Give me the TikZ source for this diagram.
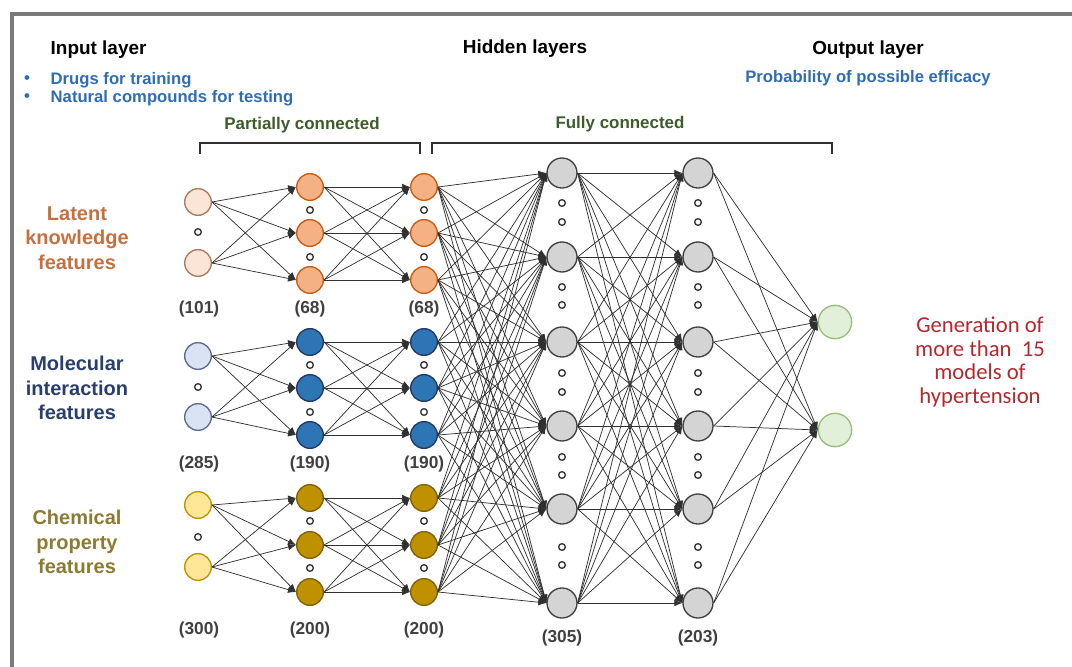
\documentclass[tikz,border=0pt]{standalone}
\usepackage{fontspec}
\setmainfont{Liberation Sans}
\newfontfamily\calfont{Carlito}
\usepackage{tikz}
\usetikzlibrary{arrows.meta,positioning}

\definecolor{frameg}{HTML}{7A7A7A}
\definecolor{linkg}{HTML}{303030}
\definecolor{subblue}{HTML}{2E6DB4}
\definecolor{grpgreen}{HTML}{3D5C2A}
\definecolor{latentc}{HTML}{C4703F}
\definecolor{molc}{HTML}{283F6E}
\definecolor{chemc}{HTML}{8C7A30}
\definecolor{genred}{HTML}{B4282D}

\begin{document}
\begin{tikzpicture}[x=0.75pt,y=-0.75pt,
    neuron/.style={circle,draw,line width=1pt,minimum size=20pt,inner sep=0pt},
    inO/.style={neuron,fill={rgb,255:red,251;green,229;blue,214},draw={rgb,255:red,170;green,120;blue,90}},
    hidO/.style={neuron,fill={rgb,255:red,244;green,177;blue,131},draw={rgb,255:red,197;green,90;blue,17}},
    inB/.style={neuron,fill={rgb,255:red,218;green,227;blue,243},draw={rgb,255:red,90;green,106;blue,138}},
    hidB/.style={neuron,fill={rgb,255:red,46;green,117;blue,182},draw={rgb,255:red,31;green,56;blue,100}},
    inY/.style={neuron,fill={rgb,255:red,255;green,230;blue,153},draw={rgb,255:red,191;green,144;blue,0}},
    hidY/.style={neuron,fill={rgb,255:red,191;green,144;blue,0},draw={rgb,255:red,127;green,96;blue,0}},
    hidG/.style={neuron,minimum size=22.5pt,fill={rgb,255:red,212;green,212;blue,212},draw={rgb,255:red,64;green,64;blue,64}},
    outG/.style={neuron,minimum size=25pt,fill={rgb,255:red,226;green,240;blue,217},draw={rgb,255:red,150;green,190;blue,120}},
    gap/.style={circle,draw=linkg,fill=white,line width=1pt,minimum size=5pt,inner sep=0pt},
    conn/.style={draw=linkg,line width=0.55pt,-{Latex[length=6pt,width=5pt]}},
    head/.style={font=\bfseries\fontsize{14.2}{17}\selectfont},
    sub/.style={text=subblue,font=\bfseries\fontsize{12.5}{15}\selectfont},
    grp/.style={text=grpgreen,font=\bfseries\fontsize{12.7}{15}\selectfont},
    feat/.style={align=center,font=\bfseries\fontsize{15}{18.4}\selectfont},
    cnt/.style={text={rgb,255:red,64;green,64;blue,64},font=\bfseries\fontsize{13}{15}\selectfont}]

    \useasboundingbox (0,0) rectangle (1072,667);
    \draw[frameg,line width=2.4pt] (12,667) -- (12,14) -- (1072,14);

    %% Titles
    \node[head,anchor=west] (inhead) at (46,50) {Input layer};
    \node[head] (hidhead) at (525,49) {Hidden layers};
    \node[head] (outhead) at (868,50) {Output layer};
    \node[sub] (bul1) at (27,80) {\textbullet};
    \node[sub,anchor=west] (drugs) at (46,80) {Drugs for training};
    \node[sub] (bul2) at (27,98) {\textbullet};
    \node[sub,anchor=west] (natural) at (46,98) {Natural compounds for testing};
    \node[sub] (prob) at (868,78) {Probability of possible efficacy};
    \node[grp] (partial) at (302,125) {Partially connected};
    \node[grp] (full) at (620,124) {Fully connected};
    \draw[linkg,line width=1.1pt] (200,154) -- (200,143) -- (420,143) -- (420,154);
    \draw[linkg,line width=1.1pt] (432,154) -- (432,143) -- (832,143) -- (832,154);

    %% Feature labels
    \node[feat,text=latentc] (latent) at (77,238) {Latent\\knowledge\\features};
    \node[feat,text=molc] (molec) at (77,388) {Molecular\\interaction\\features};
    \node[feat,text=chemc] (chem) at (77,542) {Chemical\\property\\features};
    \node[align=center,text=genred,font=\calfont\fontsize{17}{17.6}\selectfont] (gen) at (980,362)
        {Generation of\\more than~ 15\\models of\\hypertension};

    %% Latent knowledge group
    \node[inO] (oi1) at (198,202) {};
    \node[inO] (oi2) at (198,263) {};
    \node[gap] (oid) at (198,232) {};
    \node[hidO] (oa1) at (310,187) {};
    \node[hidO] (oa2) at (310,233) {};
    \node[hidO] (oa3) at (310,280) {};
    \node[gap] (oad1) at (310,210) {};
    \node[gap] (oad2) at (310,257) {};
    \node[hidO] (ob1) at (424,187) {};
    \node[hidO] (ob2) at (424,233) {};
    \node[hidO] (ob3) at (424,280) {};
    \node[gap] (obd1) at (424,210) {};
    \node[gap] (obd2) at (424,257) {};
    \node[cnt] (on1) at (199,309) {(101)};
    \node[cnt] (on2) at (310,309) {(68)};
    \node[cnt] (on3) at (424,309) {(68)};

    %% Molecular interaction group
    \node[inB] (bi1) at (198,356) {};
    \node[inB] (bi2) at (198,417) {};
    \node[gap] (bid) at (198,387) {};
    \node[hidB] (ba1) at (310,342) {};
    \node[hidB] (ba2) at (310,388) {};
    \node[hidB] (ba3) at (310,435) {};
    \node[gap] (bad1) at (310,365) {};
    \node[gap] (bad2) at (310,412) {};
    \node[hidB] (bb1) at (424,342) {};
    \node[hidB] (bb2) at (424,388) {};
    \node[hidB] (bb3) at (424,435) {};
    \node[gap] (bbd1) at (424,365) {};
    \node[gap] (bbd2) at (424,412) {};
    \node[cnt] (bn1) at (199,464) {(285)};
    \node[cnt] (bn2) at (310,464) {(190)};
    \node[cnt] (bn3) at (424,464) {(190)};

    %% Chemical property group
    \node[inY] (yi1) at (198,505) {};
    \node[inY] (yi2) at (198,567) {};
    \node[gap] (yid) at (198,537) {};
    \node[hidY] (ya1) at (310,498) {};
    \node[hidY] (ya2) at (310,545) {};
    \node[hidY] (ya3) at (310,592) {};
    \node[gap] (yad1) at (310,521) {};
    \node[gap] (yad2) at (310,568) {};
    \node[hidY] (yb1) at (424,498) {};
    \node[hidY] (yb2) at (424,545) {};
    \node[hidY] (yb3) at (424,592) {};
    \node[gap] (ybd1) at (424,521) {};
    \node[gap] (ybd2) at (424,568) {};
    \node[cnt] (yn1) at (199,630) {(300)};
    \node[cnt] (yn2) at (310,630) {(200)};
    \node[cnt] (yn3) at (424,630) {(200)};

    %% Fully connected layers
    \foreach \y [count=\i] in {173,257,342,426,509,603} {
        \node[hidG] (h\i) at (562,\y) {};
        \node[hidG] (k\i) at (698,\y) {};
    }
    \foreach \y [count=\i] in {203,222,287,305,373,392,457,475,547,565} {
        \node[gap] (hd\i) at (562,\y) {};
        \node[gap] (kd\i) at (698,\y) {};
    }
    \node[cnt] (hn) at (562,638) {(305)};
    \node[cnt] (kn) at (698,638) {(203)};
    \node[outG] (out1) at (835,322) {};
    \node[outG] (out2) at (835,430) {};

    %% Connections
    \foreach \g in {o,b,y} {
        \foreach \i in {1,2} \foreach \j in {1,2,3} \draw[conn] (\g i\i.east) -- (\g a\j.west);
        \foreach \i in {1,2,3} \foreach \j in {1,2,3} \draw[conn] (\g a\i.east) -- (\g b\j.west);
        \foreach \i in {1,2,3} \foreach \j in {1,...,6} \draw[conn] (\g b\i.east) -- (h\j.west);
    }
    \foreach \i in {1,...,6} \foreach \j in {1,...,6} \draw[conn] (h\i.east) -- (k\j.west);
    \foreach \i in {1,...,6} \foreach \j in {1,2} \draw[conn] (k\i.east) -- (out\j.west);

\end{tikzpicture}
\end{document}
